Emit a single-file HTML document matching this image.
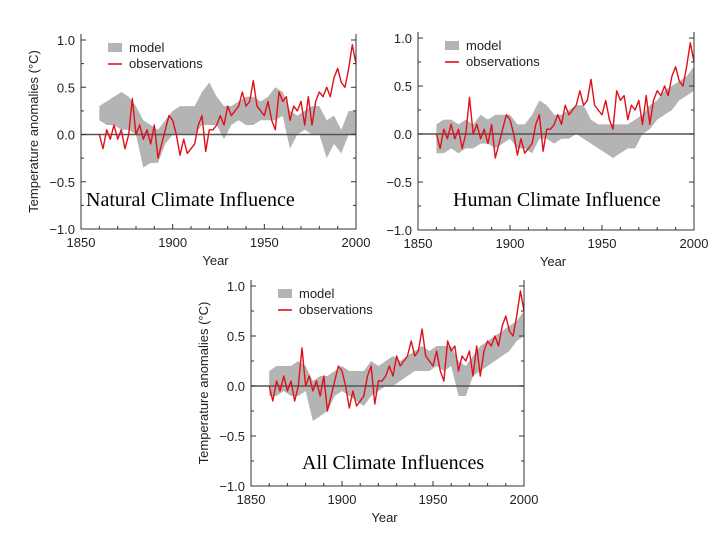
<!DOCTYPE html>
<html><head><meta charset="utf-8"><style>
html,body{margin:0;padding:0;background:#fff;}
svg{display:block;}
text{font-family:"Liberation Sans",Arial,sans-serif;}
.ov{font-family:"Liberation Serif","Times New Roman",serif;font-size:20px;fill:#000;}
</style></head><body>
<svg id="c" width="720" height="540" viewBox="0 0 720 540"></svg>
<script>
const obsYears = [1860,1862,1864,1866,1868,1870,1872,1874,1876,1878,1880,1882,1884,1886,1888,1890,1892,1894,1896,1898,1900,1902,1904,1906,1908,1910,1912,1914,1916,1918,1920,1922,1924,1926,1928,1930,1932,1934,1936,1938,1940,1942,1944,1946,1948,1950,1952,1954,1956,1958,1960,1962,1964,1966,1968,1970,1972,1974,1976,1978,1980,1982,1984,1986,1988,1990,1992,1994,1996,1998,2000];
const obsValues = [0.0,-0.15,0.05,-0.05,0.1,-0.05,0.05,-0.15,0.0,0.38,0.0,0.1,-0.05,0.05,-0.1,0.1,-0.25,-0.1,0.05,0.2,0.15,0.0,-0.22,-0.05,-0.2,-0.15,-0.1,0.1,0.2,-0.18,0.05,0.05,0.1,0.2,0.1,0.3,0.2,0.25,0.3,0.45,0.3,0.35,0.57,0.3,0.25,0.2,0.35,0.15,0.05,0.45,0.35,0.4,0.15,0.3,0.25,0.35,0.1,0.4,0.1,0.35,0.45,0.4,0.5,0.4,0.6,0.7,0.55,0.5,0.7,0.95,0.75];
const modelYears = [1860,1864,1868,1872,1876,1880,1884,1888,1892,1896,1900,1904,1908,1912,1916,1920,1924,1928,1932,1936,1940,1944,1948,1952,1956,1960,1964,1968,1972,1976,1980,1984,1988,1992,1996,2000];
const naturalLow  = [0.15,0.1,0.1,0.05,0.05,0.0,-0.35,-0.3,-0.3,-0.1,0.0,0.0,0.0,0.0,0.1,0.1,0.1,-0.05,0.1,0.15,0.1,0.1,0.15,0.15,0.15,0.2,-0.15,0.0,0.05,0.0,0.0,-0.25,-0.1,-0.2,0.0,0.0];
const naturalHigh = [0.3,0.35,0.4,0.45,0.4,0.3,0.15,0.1,0.05,0.15,0.25,0.3,0.3,0.3,0.45,0.55,0.4,0.3,0.3,0.35,0.4,0.4,0.35,0.4,0.5,0.45,0.25,0.2,0.25,0.3,0.3,0.15,0.2,0.05,0.25,0.25];
const humanLow  = [-0.2,-0.2,-0.15,-0.2,-0.15,-0.15,-0.1,-0.1,-0.15,-0.1,-0.05,-0.15,-0.15,-0.2,-0.05,-0.05,-0.1,-0.05,-0.05,0.0,-0.05,-0.1,-0.15,-0.2,-0.25,-0.2,-0.15,-0.15,0.0,0.05,0.15,0.2,0.25,0.35,0.4,0.45];
const humanHigh = [0.1,0.15,0.15,0.1,0.15,0.1,0.2,0.15,0.2,0.2,0.2,0.1,0.1,0.2,0.35,0.3,0.2,0.2,0.25,0.3,0.3,0.15,0.1,0.1,0.1,0.1,0.1,0.15,0.2,0.3,0.35,0.45,0.5,0.55,0.6,0.7];
const allLow  = [-0.1,-0.1,-0.05,-0.1,-0.1,-0.05,-0.35,-0.3,-0.25,-0.1,-0.05,-0.1,-0.15,-0.2,-0.1,-0.05,0.0,0.0,0.05,0.1,0.15,0.15,0.15,0.2,0.15,0.2,-0.1,-0.1,0.1,0.15,0.2,0.25,0.3,0.35,0.45,0.5];
const allHigh = [0.15,0.2,0.2,0.2,0.25,0.2,0.05,0.1,0.1,0.15,0.2,0.15,0.15,0.15,0.25,0.2,0.25,0.3,0.25,0.3,0.35,0.4,0.35,0.4,0.4,0.4,0.25,0.2,0.3,0.4,0.45,0.5,0.55,0.6,0.65,0.75];
const xTickLabels = ["1850","1900","1950","2000"];
const yTickLabels = ["1.0","0.5","0.0","\u22120.5","\u22121.0"];
const yTickValues = [1,0.5,0,-0.5,-1];

const NS="http://www.w3.org/2000/svg";
const svg=document.getElementById('c');
function mk(tag,attrs,parent){const e=document.createElementNS(NS,tag);for(const k in attrs)e.setAttribute(k,attrs[k]);(parent||svg).appendChild(e);return e;}

const panels=[
 {key:'natural',L:81,R:356,T:40,B:229,top:34,low:naturalLow,high:naturalHigh,title:'Natural Climate Influence',tx:86,ty:206,ytitle:true},
 {key:'human',L:418,R:694,T:38,B:230,top:32,low:humanLow,high:humanHigh,title:'Human Climate Influence',tx:453,ty:206,ytitle:false},
 {key:'all',L:251,R:524,T:286,B:486,top:280,low:allLow,high:allHigh,title:'All Climate Influences',tx:302,ty:469,ytitle:true}
];
panels.forEach(p=>{
 const g=mk('g',{});
 
 
 const xs=y=>p.L+(y-1850)/150*(p.R-p.L);
 const ys=v=>p.T+(1-v)/2*(p.B-p.T);
 let d='';
 modelYears.forEach((yr,i)=>{d+=(i?'L':'M')+xs(yr).toFixed(1)+','+ys(p.high[i]).toFixed(1);});
 for(let i=modelYears.length-1;i>=0;i--)d+='L'+xs(modelYears[i]).toFixed(1)+','+ys(p.low[i]).toFixed(1);
 const band=mk('path',{d:d+'Z',fill:'#b4b4b4'},g);
 
 
 const z=mk('line',{x1:p.L,x2:p.R,y1:ys(0),y2:ys(0),stroke:'#555','stroke-width':1.5},g);
 
 
 let od='';
 obsYears.forEach((yr,i)=>{od+=(i?'L':'M')+xs(yr).toFixed(1)+','+ys(obsValues[i]).toFixed(1);});
 const ol=mk('path',{d:od,fill:'none',stroke:'#e0101a','stroke-width':1.4,'stroke-linejoin':'round'},g);
 
 
 const fr=mk('path',{d:`M${p.L},${p.top}V${p.B}H${p.R}V${p.top}`,fill:'none',stroke:'#333','stroke-width':1},g);
 
 
 for(let v=-1;v<=1.001;v+=0.25){
  const len=Math.abs(v*2-Math.round(v*2))<0.01?5:3;
  mk('line',{x1:p.L,x2:p.L+len,y1:ys(v),y2:ys(v),stroke:'#333'},g);
  mk('line',{x1:p.R,x2:p.R-len,y1:ys(v),y2:ys(v),stroke:'#333'},g);
 }
 yTickValues.forEach((v,i)=>{
  const t=mk('text',{x:p.L-6,y:ys(v)+5,'text-anchor':'end','font-size':13,fill:'#222'},g);
  t.textContent=yTickLabels[i];
  
  
 });
 for(let yr=1860;yr<2000;yr+=10){
  const len=yr%50===0?5:3;
  mk('line',{x1:xs(yr),x2:xs(yr),y1:p.B,y2:p.B-len,stroke:'#333'},g);
 }
 xTickLabels.forEach(s=>{
  const t=mk('text',{x:xs(+s),y:p.B+18,'text-anchor':'middle','font-size':13,fill:'#222'},g);
  t.textContent=s;
  
  
 });
 const xt=mk('text',{x:(p.L+p.R)/2-3,y:p.B+36,'text-anchor':'middle','font-size':13,fill:'#222'},g);
 xt.textContent='Year';
 
 
 if(p.ytitle){
  const cy=(p.T+p.B)/2-3, cx=p.L-43;
  const yt=mk('text',{x:cx,y:cy,'text-anchor':'middle','font-size':13,fill:'#222',transform:`rotate(-90 ${cx} ${cy})`},g);
  yt.textContent='Temperature anomalies (\u00B0C)';
  
  
 }
 const lg=mk('g',{},g);
 
 
 mk('rect',{x:p.L+27,y:p.T+3,width:14,height:9,fill:'#b4b4b4'},lg);
 const t1=mk('text',{x:p.L+48,y:p.T+12,'font-size':13,fill:'#222'},lg);t1.textContent='model';
 mk('line',{x1:p.L+27,x2:p.L+41,y1:p.T+24,y2:p.T+24,stroke:'#e0101a','stroke-width':1.6},lg);
 const t2=mk('text',{x:p.L+48,y:p.T+28,'font-size':13,fill:'#222'},lg);t2.textContent='observations';
 const ov=mk('text',{x:p.tx,y:p.ty,'class':'ov'},g);
 ov.textContent=p.title;
 
 
});
</script>
</body></html>
